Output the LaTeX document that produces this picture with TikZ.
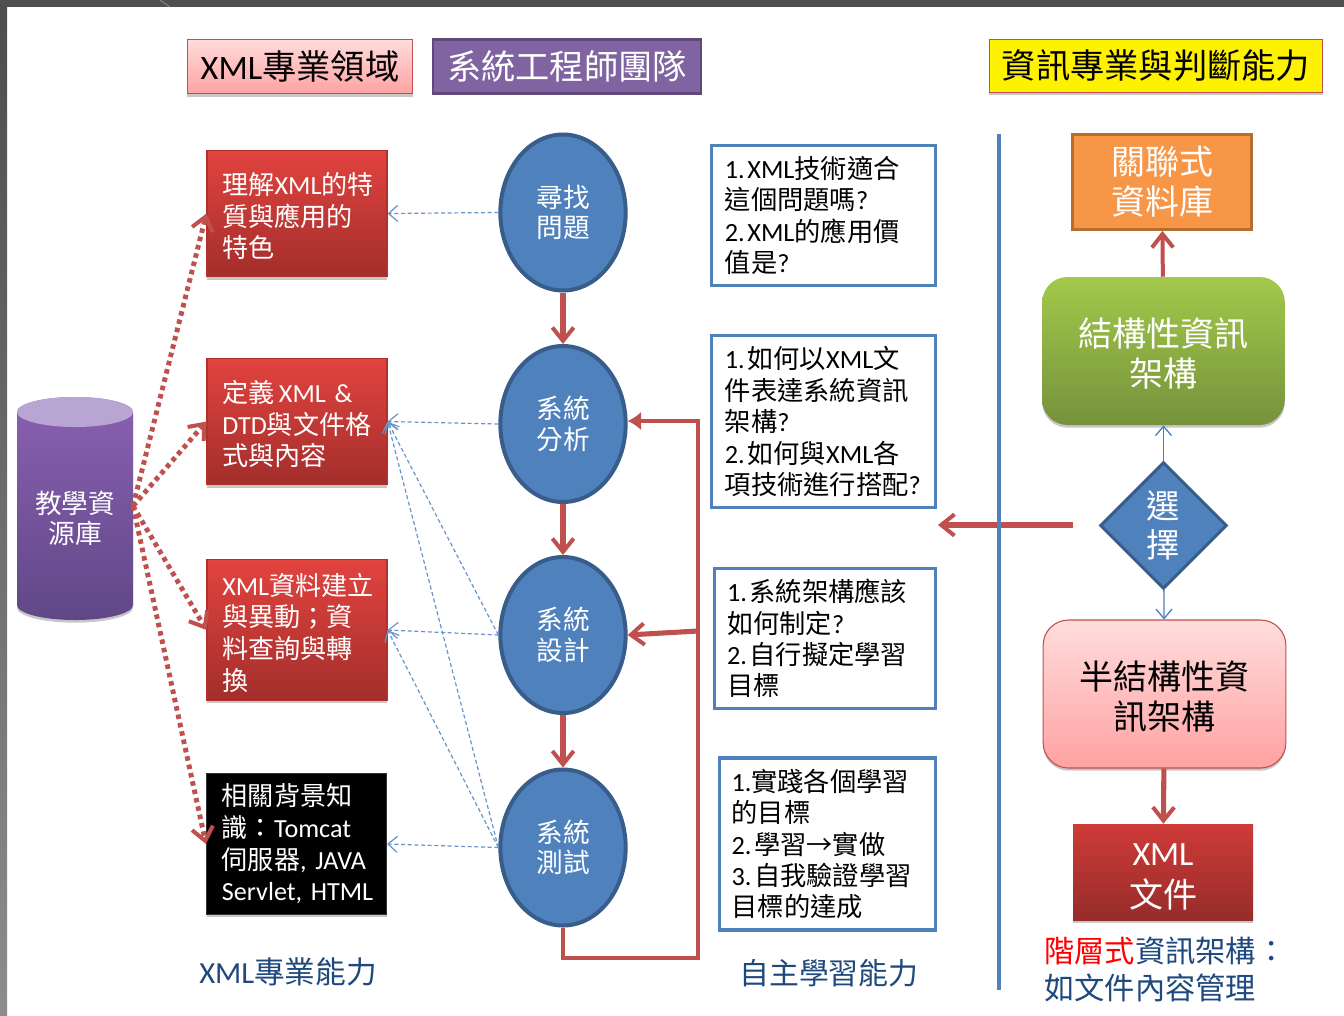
\documentclass[tikz,border=0pt]{standalone}
\usepackage{fontspec}
\setmainfont{Carlito}
\newfontfamily\cjk{Noto Sans CJK TC}
\newcommand\zh[1]{{\cjk #1}}
\newcommand\dnr[1]{\rule{0pt}{#1}}
\newcommand\nd{\hspace{.1em}}
\usetikzlibrary{arrows.meta,shapes.geometric,shadows,calc}
\definecolor{rd}{HTML}{C0504D}
\definecolor{bl}{HTML}{4F81BD}
\definecolor{bld}{HTML}{385D8A}
\definecolor{navy}{HTML}{1F497D}
\definecolor{pinkT}{HTML}{FFDCDC}
\definecolor{pinkB}{HTML}{FFA2A2}
\definecolor{purB}{HTML}{5F497A}
\definecolor{purF}{HTML}{8064A2}
\definecolor{cylT}{HTML}{8A60B2}
\definecolor{cylB}{HTML}{604887}
\definecolor{cylL}{HTML}{B9A5D4}
\definecolor{redT}{HTML}{E2433F}
\definecolor{redB}{HTML}{A32E2B}
\definecolor{redE}{HTML}{B0302D}
\definecolor{orgB}{HTML}{B66D31}
\definecolor{orgF}{HTML}{F79646}
\definecolor{grnT}{HTML}{A2C94A}
\definecolor{grnB}{HTML}{76923C}
\definecolor{xmlT}{HTML}{CE3B38}
\definecolor{xmlB}{HTML}{962C2A}
\definecolor{blk}{HTML}{333333}
\tikzset{
  x=0.75pt,y=-0.75pt,
  softshadow/.style={drop shadow={shadow xshift=0pt,shadow yshift=-2pt,opacity=.22,fill=black}},
  headbox/.style={rectangle,inner sep=0pt,font=\fontsize{25.7}{30}\selectfont,align=center},
  redbox/.style={rectangle,draw=#1,line width=.8pt,inner sep=0pt,anchor=center,minimum width=135pt,text width=112pt,align=left,text=white,font=\fontsize{19.6}{23.7}\selectfont,softshadow},
  redbox/.default={redE},
  oval/.style={ellipse,draw=bld,line width=3pt,fill=bl,minimum width=94pt,minimum height=117pt,inner sep=0pt,text=white,align=center,font=\fontsize{20}{23}\selectfont},
  qbox/.style={rectangle,draw=bl,line width=2.4pt,fill=white,inner sep=0pt,align=left,text=black,font=\fontsize{19.7}{23.6}\selectfont},
  bigtext/.style={font=\fontsize{25.5}{30}\selectfont,align=center},
  flow/.style={draw=rd,line width=3.8pt,-{Straight Barb[length=10pt,width=16pt,line width=3pt]}},
  feed/.style={draw=rd,line width=3.4pt},
  dotarrow/.style={draw=rd,line width=3.7pt,dash pattern=on 3.4pt off 3pt,-{Straight Barb[length=10pt,width=16pt,line width=3pt,sep=0pt]}},
  thindash/.style={draw=bl!85,line width=.9pt,dash pattern=on 3pt off 2pt,-{Straight Barb[length=7pt,width=12pt,line width=.9pt]}},
  thinarrow/.style={draw=bl,line width=1pt,-{Straight Barb[length=7pt,width=12pt,line width=1pt]}},
  caption/.style={font=\fontsize{22.7}{27}\selectfont,text=navy,anchor=west,inner sep=0pt},
}
\begin{document}
\begin{tikzpicture}
\useasboundingbox (0,0) rectangle (1344,1015);
\fill[white] (0,0) rectangle (1344,1015);
\shade[top color=black!70,bottom color=black!45] (0,0) rectangle (7,1015);
\fill[black!69] (0,0) rectangle (1344,7);
\draw[black!45,line width=.6pt] (160,0) -- (170,7);

% headers
\node[headbox,draw=rd,line width=.8pt,top color=pinkT,bottom color=pinkB,minimum width=169pt,minimum height=41pt,softshadow] (h1) at (300,66.5) {XML\zh{專業領域}};
\node[headbox,draw=purB,line width=2.2pt,fill=purF,minimum width=201pt,minimum height=41pt,text=white] (h2) at (567,66.5) {\zh{系統工程師團隊}};
\node[headbox,draw=rd,line width=1pt,fill=yellow,minimum width=250pt,minimum height=40pt,softshadow] (h3) at (1156,66) {\zh{資訊專業與判斷能力}};

% cylinder
\shade[top color=cylT,bottom color=cylB,drop shadow={shadow xshift=0pt,shadow yshift=-2pt,opacity=.22,fill=black}] (17,412) arc[start angle=180,end angle=360,x radius=58,y radius=15] -- (133,605) arc[start angle=0,end angle=-180,x radius=58,y radius=-15] -- cycle;
\fill[cylL] (75,412) ellipse[x radius=58,y radius=15];
\node[rectangle,minimum width=87pt,minimum height=150pt,inner sep=0pt,text=white,align=center,font=\fontsize{20}{22.7}\selectfont] (db) at (75,518) {\zh{教學資}\\\zh{源庫}};
\coordinate (dbr) at (133,506);

% left boxes
\node[redbox,top color=redT,bottom color=redB,minimum height=95pt] (b1) at (297,213.5) {\dnr{20.5pt}\zh{理解}XML\zh{的特}\\\zh{質與應用的}\\\zh{特色}};
\node[redbox,top color=redT,bottom color=redB,minimum height=95pt] (b2) at (297,421.5) {\dnr{20.5pt}\zh{定義}\,XML \&\\DTD\zh{與文件格}\\\zh{式與內容}};
\node[redbox,top color=redT,bottom color=redB,minimum height=106pt] (b3) at (297,630) {\dnr{20.5pt}XML\zh{資料建立}\\\zh{與異動；資}\\\zh{料查詢與轉}\\\zh{換}};
\node[redbox=blk,fill=black,minimum height=106pt] (b4) at (296.5,844) {\zh{相關背景知}\\\zh{識：}Tomcat\\\zh{伺服器}, JAVA\\\mbox{Servlet, HTML}};

% ovals
\node[oval] (e1) at (563,212.5) {\zh{尋找}\\\zh{問題}};
\node[oval] (e2) at (563,424) {\zh{系統}\\\zh{分析}};
\node[oval] (e3) at (563,635) {\zh{系統}\\\zh{設計}};
\node[oval] (e4) at (563,847.5) {\zh{系統}\\\zh{測試}};

% question boxes
\node[qbox,minimum width=168pt,minimum height=105pt,text width=148pt] (q1) at (823.5,215.5) {1.\nd XML\zh{技術適合}\\\zh{這個問題嗎}?\\2.\nd XML\zh{的應用價}\\\zh{值是}?};
\node[qbox,minimum width=168pt,minimum height=129pt,text width=148pt] (q2) at (823.5,421.5) {1.\nd \zh{如何以}XML\zh{文}\\\zh{件表達系統資訊}\\\zh{架構}?\\2.\nd \zh{如何與}XML\zh{各}\\\zh{項技術進行搭配}?};
\node[qbox,minimum width=166pt,minimum height=105pt,text width=147pt] (q3) at (825,638.5) {1.\nd \zh{系統架構應該}\\\zh{如何制定}?\\2.\nd \zh{自行擬定學習}\\\zh{目標}};
\node[qbox,minimum width=162pt,minimum height=129pt,text width=144pt] (q4) at (827.5,844) {1.\zh{實踐各個學習}\\\zh{的目標}\\2.\nd \zh{學習→實做}\\3.\nd \zh{自我驗證學習}\\\zh{目標的達成}};

% right column
\node[rectangle,draw=orgB,line width=2.4pt,fill=orgF,minimum width=134pt,minimum height=71pt,inner sep=0pt,text=white,bigtext] (db2) at (1162,182) {\zh{關聯式}\\\zh{資料庫}};
\node[rectangle,rounded corners=19pt,top color=grnT,bottom color=grnB,minimum width=182pt,minimum height=111pt,inner sep=0pt,text=white,bigtext,softshadow] (st) at (1163.5,351) {\dnr{24.6pt}\zh{結構性資訊}\\\zh{架構}};
\node[diamond,draw=bld,line width=2.2pt,fill=bl,minimum width=95pt,minimum height=95pt,inner sep=0pt,text=white,font=\fontsize{25}{29.5}\selectfont,align=center] (ch) at (1163.5,525.5) {\zh{選}\\\zh{擇}};
\node[rectangle,rounded corners=19pt,draw=rd,line width=.8pt,top color=pinkT,bottom color=pinkB,minimum width=182pt,minimum height=111pt,inner sep=0pt,text=black,bigtext,softshadow] (se) at (1164.5,694) {\dnr{24.6pt}\zh{半結構性資}\\\zh{訊架構}};
\node[rectangle,top color=xmlT,bottom color=xmlB,minimum width=135pt,minimum height=72pt,inner sep=0pt,text=white,bigtext,softshadow] (xd) at (1163,872) {\dnr{24pt}XML\\[1.5pt]\zh{文件}};

% captions
\node[caption,font=\fontsize{23}{27}\selectfont] (c1) at (199,972) {XML\zh{專業能力}};
\node[caption,font=\fontsize{22.4}{27}\selectfont] (c2) at (739,973) {\zh{自主學習能力}};
\node[caption] (c3) at (1044,951) {\textcolor{red}{\zh{階層式}}\zh{資訊架構：}};
\node[caption] (c4) at (1044,988) {\zh{如文件內容管理}};

% connectors
\draw[dotarrow] (dbr) -- (b1.west);
\draw[dotarrow] (dbr) -- (b2.west);
\draw[dotarrow] (dbr) -- (b3.west);
\draw[dotarrow] (dbr) -- (b4.west);

\draw[thindash] (e1.west) -- (b1.east);
\draw[thindash] (e2.west) -- (b2.east);
\draw[thindash] (e3.west) -- (b3.east);
\draw[thindash] (e4.west) -- (b4.east);
\draw[thindash] (e3.west) -- (b2.east);
\draw[thindash] (e4.west) -- (b2.east);
\draw[thindash] (e4.west) -- (b3.east);

\draw[flow] (e1) -- (e2);
\draw[flow] (e2) -- (e3);
\draw[flow] (e3) -- (e4);

\coordinate (fbc) at (698,958);
\coordinate (fbt) at (698,421);
\coordinate (fbm) at (698,631);
\draw[feed,-{Latex[length=10pt,width=14pt]},line join=miter] (e4.south) |- (fbc) -- (fbt) -- ($(e2.east)+(0,-3)$);
\draw[flow] (fbm) -- (e3.east);

\draw[flow,line width=3pt] (st) -- (db2);
\draw[thinarrow] (ch) -- (st);
\draw[thinarrow] (ch) -- (se);
\draw[flow] (se) -- (xd);

\coordinate (sela) at (1073,525);
\coordinate (selb) at (938,525);
\draw[flow] (sela) -- (selb);
\coordinate (vt) at (999,134);
\coordinate (vb) at (999,990);
\draw[bl,line width=3.6pt] (vt) -- (vb);
\end{tikzpicture}
\end{document}
